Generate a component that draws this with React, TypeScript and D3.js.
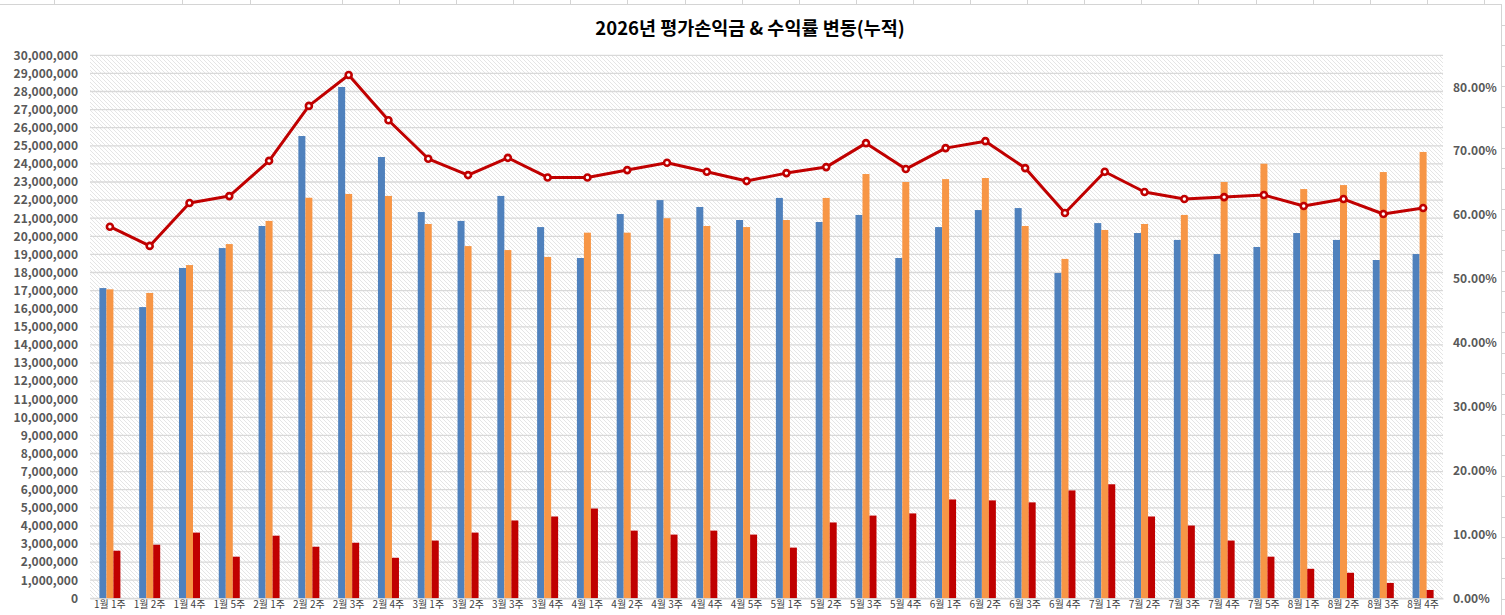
import { useEffect, useRef } from "react";
import * as d3 from "d3";

// weekly categories
const weeks = [
  "1월 1주", "1월 2주", "1월 4주", "1월 5주",
  "2월 1주", "2월 2주", "2월 3주", "2월 4주",
  "3월 1주", "3월 2주", "3월 3주", "3월 4주",
  "4월 1주", "4월 2주", "4월 3주", "4월 4주", "4월 5주",
  "5월 1주", "5월 2주", "5월 3주", "5월 4주",
  "6월 1주", "6월 2주", "6월 3주", "6월 4주",
  "7월 1주", "7월 2주", "7월 3주", "7월 4주", "7월 5주",
  "8월 1주", "8월 2주", "8월 3주", "8월 4주",
];

// blue bars
const seriesA = [
  17140000, 16090000, 18250000, 19350000,
  20570000, 25540000, 28250000, 24380000,
  21340000, 20850000, 22230000, 20510000,
  18800000, 21230000, 22000000, 21620000, 20900000,
  22120000, 20790000, 21180000, 18800000,
  20510000, 21450000, 21560000, 17970000,
  20730000, 20180000, 19800000, 19020000, 19410000,
  20180000, 19800000, 18690000, 19020000,
];

// orange bars
const seriesB = [
  17070000, 16870000, 18410000, 19570000,
  20850000, 22130000, 22340000, 22230000,
  20680000, 19460000, 19240000, 18860000,
  20200000, 20200000, 21000000, 20570000, 20510000,
  20900000, 22120000, 23440000, 23000000,
  23160000, 23220000, 20570000, 18750000,
  20350000, 20680000, 21180000, 23000000, 24010000,
  22610000, 22830000, 23550000, 24660000,
];

// dark red bars
const seriesC = [
  2630000, 2960000, 3630000, 2300000,
  3460000, 2850000, 3070000, 2240000,
  3190000, 3630000, 4300000, 4520000,
  4960000, 3740000, 3520000, 3740000, 3520000,
  2800000, 4190000, 4570000, 4690000,
  5460000, 5410000, 5300000, 5960000,
  6300000, 4520000, 4020000, 3190000, 2300000,
  1630000, 1410000, 850000, 460000,
];

// return rate line (right axis)
const rate = [
  0.5817, 0.5516, 0.6187, 0.6296,
  0.6848, 0.7708, 0.8192, 0.7484,
  0.6880, 0.6625, 0.6895, 0.6588,
  0.6588, 0.6703, 0.6817, 0.6677, 0.6531,
  0.6656, 0.6750, 0.7125, 0.6719,
  0.7047, 0.7156, 0.6734, 0.6031,
  0.6677, 0.6360, 0.6250, 0.6280, 0.6313,
  0.6140, 0.6250, 0.6016, 0.6110,
];

const leftTicks = d3.range(0, 30000001, 1000000);
const rightTicks = [0, 0.1, 0.2, 0.3, 0.4, 0.5, 0.6, 0.7, 0.8];

const W = 1505;
const H = 615;
const FONT = "'Noto Sans CJK KR', 'Noto Sans', sans-serif";

export default function App() {
  const svgRef = useRef<SVGSVGElement>(null);

  useEffect(() => {
    if (!svgRef.current) return;
    const svg = d3.select(svgRef.current);
    svg.selectAll("*").remove();

    const plot = { left: 90, right: 1443, top: 55.3, bottom: 598.3 };

    // spreadsheet cell lines behind the chart object
    const sheet = svg.append("g").attr("stroke", "#d4d4d4").attr("stroke-width", 1);
    sheet.append("line").attr("x1", 0).attr("x2", 1501).attr("y1", 4.5).attr("y2", 4.5);
    sheet.append("line").attr("x1", 1501.5).attr("x2", 1501.5).attr("y1", 4).attr("y2", H);
    const colXs = [54, 182, 250, 342].concat(d3.range(399, 1500, 57.1));
    colXs.forEach((cx) => {
      sheet.append("line").attr("x1", Math.round(cx) + 0.5).attr("x2", Math.round(cx) + 0.5).attr("y1", 0).attr("y2", 4);
    });
    d3.range(24.5, H, 20.5).forEach((ry) => {
      sheet.append("line").attr("x1", 1502).attr("x2", W).attr("y1", Math.round(ry) + 0.5).attr("y2", Math.round(ry) + 0.5);
    });

    // hatched plot background
    const defs = svg.append("defs");
    const pat = defs
      .append("pattern")
      .attr("id", "hatch")
      .attr("patternUnits", "userSpaceOnUse")
      .attr("width", 4)
      .attr("height", 4);
    pat.append("rect").attr("width", 4).attr("height", 4).attr("fill", "#ffffff");
    pat
      .append("path")
      .attr("d", "M-1,-1 L5,5 M-1,3 L1,5 M3,-1 L5,1")
      .attr("stroke", "#e2e2e2")
      .attr("stroke-width", 0.9);

    svg
      .append("rect")
      .attr("x", plot.left)
      .attr("y", plot.top)
      .attr("width", plot.right - plot.left)
      .attr("height", plot.bottom - plot.top)
      .attr("fill", "url(#hatch)");

    const x = d3
      .scaleBand<string>()
      .domain(weeks)
      .range([plot.left, plot.right])
      .paddingInner(0.472)
      .paddingOuter(0.236);

    const keys = ["a", "b", "c"];
    const x1 = d3.scaleBand<string>().domain(keys).range([0, x.bandwidth()]);

    const y = d3.scaleLinear().domain([0, 30000000]).range([plot.bottom, plot.top]);
    const yR = d3.scaleLinear().domain([0, 0.85]).range([plot.bottom, plot.top]);

    // horizontal gridlines
    svg
      .append("g")
      .selectAll("line")
      .data(leftTicks)
      .join("line")
      .attr("x1", plot.left)
      .attr("x2", plot.right)
      .attr("y1", (d) => y(d))
      .attr("y2", (d) => y(d))
      .attr("stroke", "#d9d9d9")
      .attr("stroke-width", 1.3);

    // bars
    const colors: Record<string, string> = { a: "#4f81bd", b: "#f79646", c: "#c00000" };
    const rows = weeks.map((w, i) => ({ w, a: seriesA[i], b: seriesB[i], c: seriesC[i] }));
    const groups = svg
      .append("g")
      .selectAll("g")
      .data(rows)
      .join("g")
      .attr("transform", (d) => `translate(${x(d.w)},0)`);
    groups
      .selectAll("rect")
      .data((d) => keys.map((k) => ({ k, v: (d as any)[k] as number })))
      .join("rect")
      .attr("x", (d) => x1(d.k)!)
      .attr("width", x1.bandwidth())
      .attr("y", (d) => y(d.v))
      .attr("height", (d) => y(0) - y(d.v))
      .attr("fill", (d) => colors[d.k]);

    // line on right axis
    const cx = (w: string) => x(w)! + x.bandwidth() / 2;
    const line = d3
      .line<number>()
      .x((_, i) => cx(weeks[i]))
      .y((d) => yR(d));
    svg
      .append("path")
      .datum(rate)
      .attr("d", line)
      .attr("fill", "none")
      .attr("stroke", "#c00000")
      .attr("stroke-width", 3)
      .attr("stroke-linejoin", "round");
    svg
      .append("g")
      .selectAll("circle")
      .data(rate)
      .join("circle")
      .attr("cx", (_, i) => cx(weeks[i]))
      .attr("cy", (d) => yR(d))
      .attr("r", 3)
      .attr("fill", "#ffffff")
      .attr("stroke", "#c00000")
      .attr("stroke-width", 2.6);

    // axes
    const axisStyle = (g: d3.Selection<SVGGElement, unknown, null, undefined>) => {
      g.select(".domain").remove();
      g.selectAll("line").remove();
      g.selectAll("text")
        .attr("fill", "#595959")
        .attr("font-family", FONT)
        .attr("font-weight", "bold")
        .attr("font-size", "12px");
    };

    svg
      .append("g")
      .attr("transform", `translate(${plot.left},0)`)
      .call(d3.axisLeft(y).tickValues(leftTicks).tickFormat(d3.format(",")).tickSize(0).tickPadding(12))
      .call(axisStyle);

    svg
      .append("g")
      .attr("transform", `translate(${plot.right},0)`)
      .call(d3.axisRight(yR).tickValues(rightTicks).tickFormat(d3.format(".2%")).tickSize(0).tickPadding(10))
      .call(axisStyle);

    const xAxis = svg
      .append("g")
      .attr("transform", `translate(0,${plot.bottom})`)
      .call(d3.axisBottom(x).tickSize(0).tickPadding(3));
    xAxis.select(".domain").attr("stroke", "#d9d9d9").attr("stroke-width", 1.3);
    xAxis
      .selectAll("text")
      .attr("fill", "#404040")
      .attr("font-family", FONT)
      .attr("font-size", "10px");

    // title
    svg
      .append("text")
      .attr("x", 750)
      .attr("y", 34.5)
      .attr("text-anchor", "middle")
      .attr("font-family", FONT)
      .attr("font-weight", "bold")
      .attr("font-size", "18.5px")
      .attr("fill", "#000000")
      .text("2026년 평가손익금 & 수익률 변동(누적)");
  }, []);

  return (
    <svg
      ref={svgRef}
      width={W}
      height={H}
      style={{ position: "absolute", left: 0, top: 0, background: "#ffffff" }}
    />
  );
}
